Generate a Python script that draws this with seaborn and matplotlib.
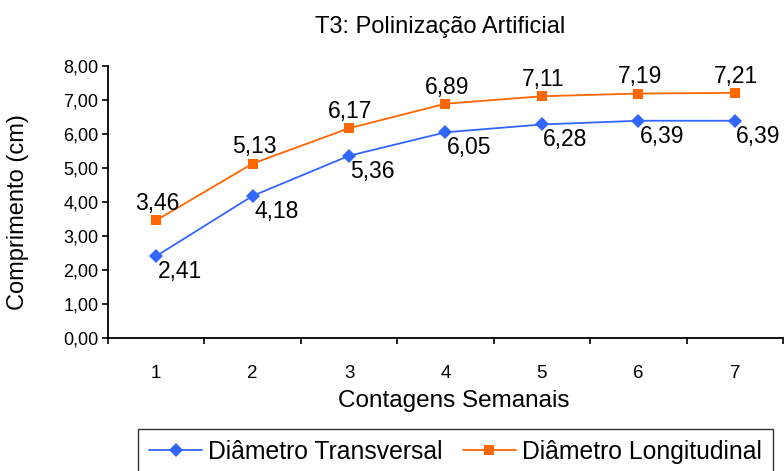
import matplotlib
matplotlib.use("Agg")
import matplotlib.pyplot as plt
import pandas as pd
import seaborn as sns
from matplotlib.ticker import FixedLocator, FuncFormatter

semanas = [1, 2, 3, 4, 5, 6, 7]
transversal = [2.41, 4.18, 5.36, 6.05, 6.28, 6.39, 6.39]
longitudinal = [3.46, 5.13, 6.17, 6.89, 7.11, 7.19, 7.21]
series_names = ["Diâmetro Transversal", "Diâmetro Longitudinal"]
y_ticks = [0, 1, 2, 3, 4, 5, 6, 7, 8]

sns.set_style("white")
plt.rcParams['font.family'] = ['Liberation Sans', 'DejaVu Sans']
plt.rcParams['text.color'] = 'black'
plt.rcParams['axes.labelcolor'] = 'black'
plt.rcParams['xtick.color'] = 'black'
plt.rcParams['ytick.color'] = 'black'

df = pd.DataFrame({
    "Semana": semanas * 2,
    "Valor": transversal + longitudinal,
    "Serie": [series_names[0]] * 7 + [series_names[1]] * 7,
})

colors = {series_names[0]: "#3366FF", series_names[1]: "#FF6600"}
markers = {series_names[0]: "D", series_names[1]: "s"}

fig = plt.figure(figsize=(7.84, 4.71), dpi=100)
ax = fig.add_axes([108 / 784, 1 - 338 / 471, 675 / 784, 272 / 471])

sns.lineplot(data=df, x="Semana", y="Valor", hue="Serie", style="Serie",
             palette=colors, markers=markers, dashes=False, markersize=7,
             markeredgewidth=0, linewidth=1.3, ax=ax, legend=True)

# data labels
for vals, dx, dy in [(transversal, 17, -11), (longitudinal, 1, 12)]:
    for x, v in zip(semanas, vals):
        ax.annotate(f"{v:.2f}".replace(".", ","), (x, v), xytext=(dx, dy),
                    textcoords="offset points", ha="center", va="center",
                    fontsize=16.5)

ax.set_xlim(0.5, 7.5)
ax.set_ylim(0, 8)
ax.set_yticks(y_ticks)
ax.yaxis.set_major_formatter(FuncFormatter(lambda v, p: f"{v:.2f}".replace(".", ",")))
ax.set_xticks(semanas)
ax.set_xticklabels([str(s) for s in semanas])
ax.xaxis.set_minor_locator(FixedLocator([s - 0.5 for s in semanas] + [7.5]))
ax.tick_params(axis="x", which="major", bottom=False, pad=16, labelsize=13.5)
ax.tick_params(axis="x", which="minor", bottom=True, length=4, width=1.2,
               direction="out", color="black")
ax.tick_params(axis="y", left=True, length=4, width=1.2, direction="out",
               color="black", pad=3, labelsize=13)

for side in ["top", "right"]:
    ax.spines[side].set_visible(False)
for side in ["left", "bottom"]:
    ax.spines[side].set_color("black")
    ax.spines[side].set_linewidth(1.3)

ax.set_xlabel("Contagens Semanais", fontsize=17.5)
ax.set_ylabel("Comprimento (cm)", fontsize=17)
ax.xaxis.set_label_coords(0.512, -0.19)
ax.yaxis.set_label_coords(-0.117, 0.463)

fig.text(440 / 784, 1 - 27 / 471, "T3: Polinização Artificial", ha="center",
         va="center", fontsize=17)

handles, labels = ax.get_legend_handles_labels()
ax.get_legend().remove()
leg = fig.legend(handles, labels, loc="upper left",
                 bbox_to_anchor=(138 / 784, 1 - 429 / 471), ncol=2,
                 frameon=True, fancybox=False, edgecolor="black",
                 fontsize=17.8, handlelength=2.15, handletextpad=0.25,
                 columnspacing=0.8, borderaxespad=0, borderpad=0.45)
leg.get_frame().set_linewidth(1.0)

fig.savefig("out.png", dpi=100)
